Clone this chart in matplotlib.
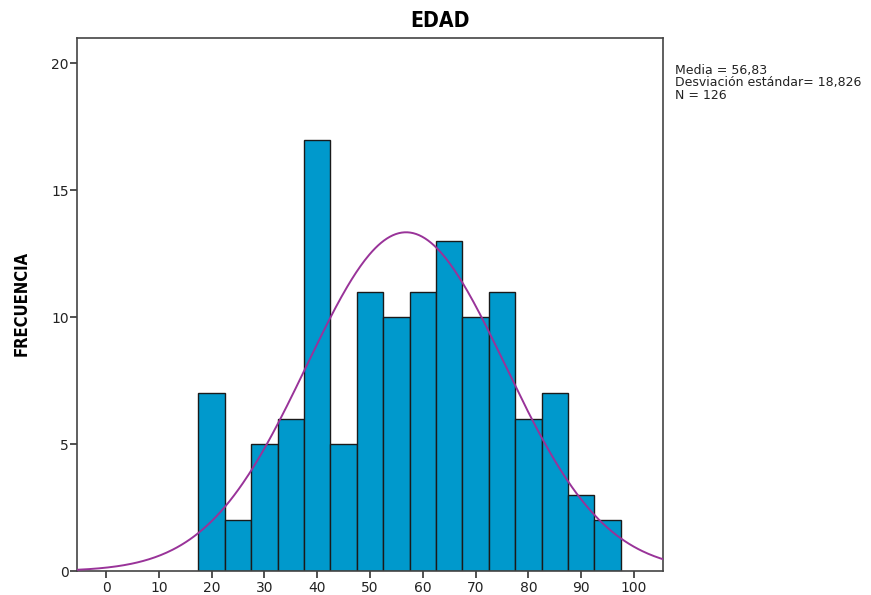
import numpy as np
import matplotlib.pyplot as plt
from matplotlib import font_manager

#---------------------------
# Datos
#---------------------------

bin_left = [17.5, 22.5, 27.5, 32.5, 37.5, 42.5, 47.5, 52.5,
            57.5, 62.5, 67.5, 72.5, 77.5, 82.5, 87.5, 92.5]
freq = [7, 2, 5, 6, 17, 5, 11, 10, 11, 13, 10, 11, 6, 7, 3, 2]
bin_width = 5

media = 56.83
desv = 18.826
n = 126

x_ticks = [0, 10, 20, 30, 40, 50, 60, 70, 80, 90, 100]
y_ticks = [0, 5, 10, 15, 20]

#---------------------------
# Police étroite si dispo
#---------------------------

fonts = font_manager.fontManager.ttflist
names = {f.name for f in fonts}
title_kw = dict(family=["DejaVu Sans"], fontweight="bold")
if "Liberation Sans Narrow" in names:
    title_kw = dict(family=["Liberation Sans Narrow", "DejaVu Sans"], fontweight="bold")
    squeeze = 1.0
elif any(f.name == "DejaVu Sans" and f.stretch == "condensed" for f in fonts):
    title_kw = dict(family=["DejaVu Sans"], fontweight="bold", fontstretch="condensed")
    squeeze = 0.85
else:
    squeeze = 0.75

#---------------------------
# Figura
#---------------------------

fig = plt.figure(figsize=(8.71, 5.95), dpi=100)
ax = fig.add_axes([0.0884, 0.040, 0.6728, 0.896])

ax.bar(bin_left, freq, width=bin_width, align="edge",
       color="#0099cc", edgecolor="#1a1a1a", linewidth=1.0, zorder=2)

# Curva normal ajustada (escalada a frecuencias)
xs = np.linspace(-5.5, 105.5, 400)
pdf = np.exp(-0.5 * ((xs - media) / desv) ** 2) / (desv * np.sqrt(2 * np.pi))
ax.plot(xs, pdf * n * bin_width, color="#993399", linewidth=1.4, zorder=3)

ax.set_xlim(-5.5, 105.5)
ax.set_ylim(0, 21)
ax.set_xticks(x_ticks)
ax.set_yticks(y_ticks)
ax.tick_params(direction="out", length=5, width=1.2, color="#333333",
               labelsize=10, labelcolor="#222222")
ax.tick_params(axis="x", pad=2)
ax.tick_params(axis="y", pad=1)
for sp in ax.spines.values():
    sp.set_color("#444444")
    sp.set_linewidth(1.2)

fig.text(0.505, 0.965, "EDAD", ha="center", va="center",
         fontsize=16 * max(squeeze, 0.95), **title_kw)
fig.text(0.025, 0.49, "FRECUENCIA", ha="center", va="center", rotation=90,
         fontsize=14 * squeeze, **title_kw)

fig.text(0.775, 0.893,
         f"Media = {media:.2f}".replace(".", ",") + "\n"
         + f"Desviación estándar= {desv:.3f}".replace(".", ",") + "\n"
         + f"N = {n}",
         ha="left", va="top", fontsize=9, linespacing=0.95, color="#222222")

fig.savefig("out.png", dpi=100)
